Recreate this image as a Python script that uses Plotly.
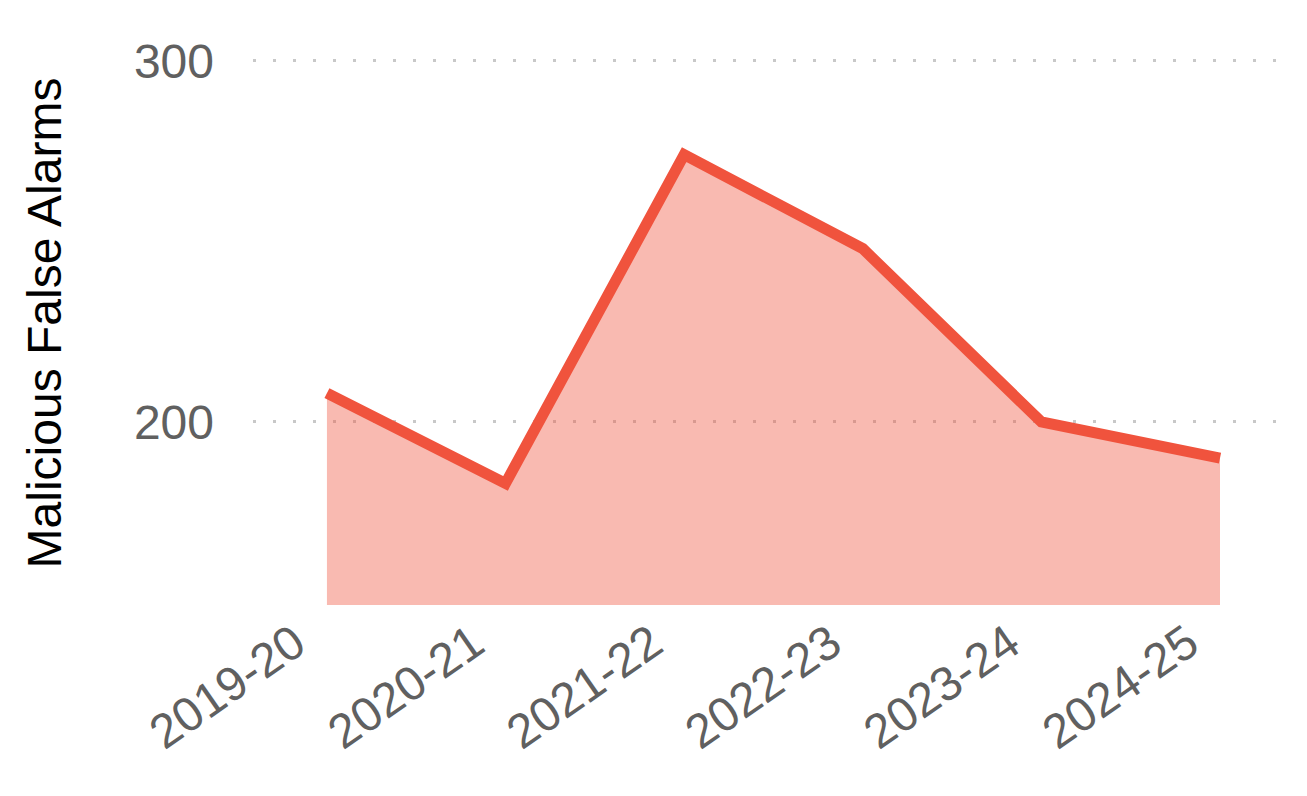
import plotly.graph_objects as go

# данные с графика
years = ["2019-20", "2020-21", "2021-22", "2022-23", "2023-24", "2024-25"]
alarms = [208, 183, 274, 248, 200, 190]
y_ticks = [200, 300]

fig = go.Figure()

fig.add_trace(go.Scatter(
    x=years,
    y=alarms,
    mode="lines",
    fill="tozeroy",
    fillcolor="rgba(240,83,61,0.4)",
    line=dict(color="#F0533D", width=11),
    hoverinfo="x+y",
))

fig.update_layout(
    width=1307,
    height=796,
    paper_bgcolor="white",
    plot_bgcolor="white",
    showlegend=False,
    margin=dict(l=245, r=35, t=33, b=199),
    font=dict(family="Liberation Sans, Arial, sans-serif"),
)

fig.update_xaxes(
    type="category",
    range=[-0.414, 5.336],
    showgrid=False,
    zeroline=False,
    showline=False,
    tickangle=-35,
    tickfont=dict(size=48, color="#606060"),
    ticklabelstandoff=0,
    ticklabelshift=-32,
)

fig.update_yaxes(
    range=[149.3, 305.5],
    tickvals=y_ticks,
    showgrid=True,
    gridcolor="#c8c8c8",
    gridwidth=3,
    griddash="3px,17px",
    zeroline=False,
    showline=False,
    tickfont=dict(size=48, color="#606060"),
    ticklabelstandoff=38,
    title=dict(text="Malicious False Alarms",
               font=dict(size=48, color="black"),
               standoff=57),
)

fig.write_html("out.html")
